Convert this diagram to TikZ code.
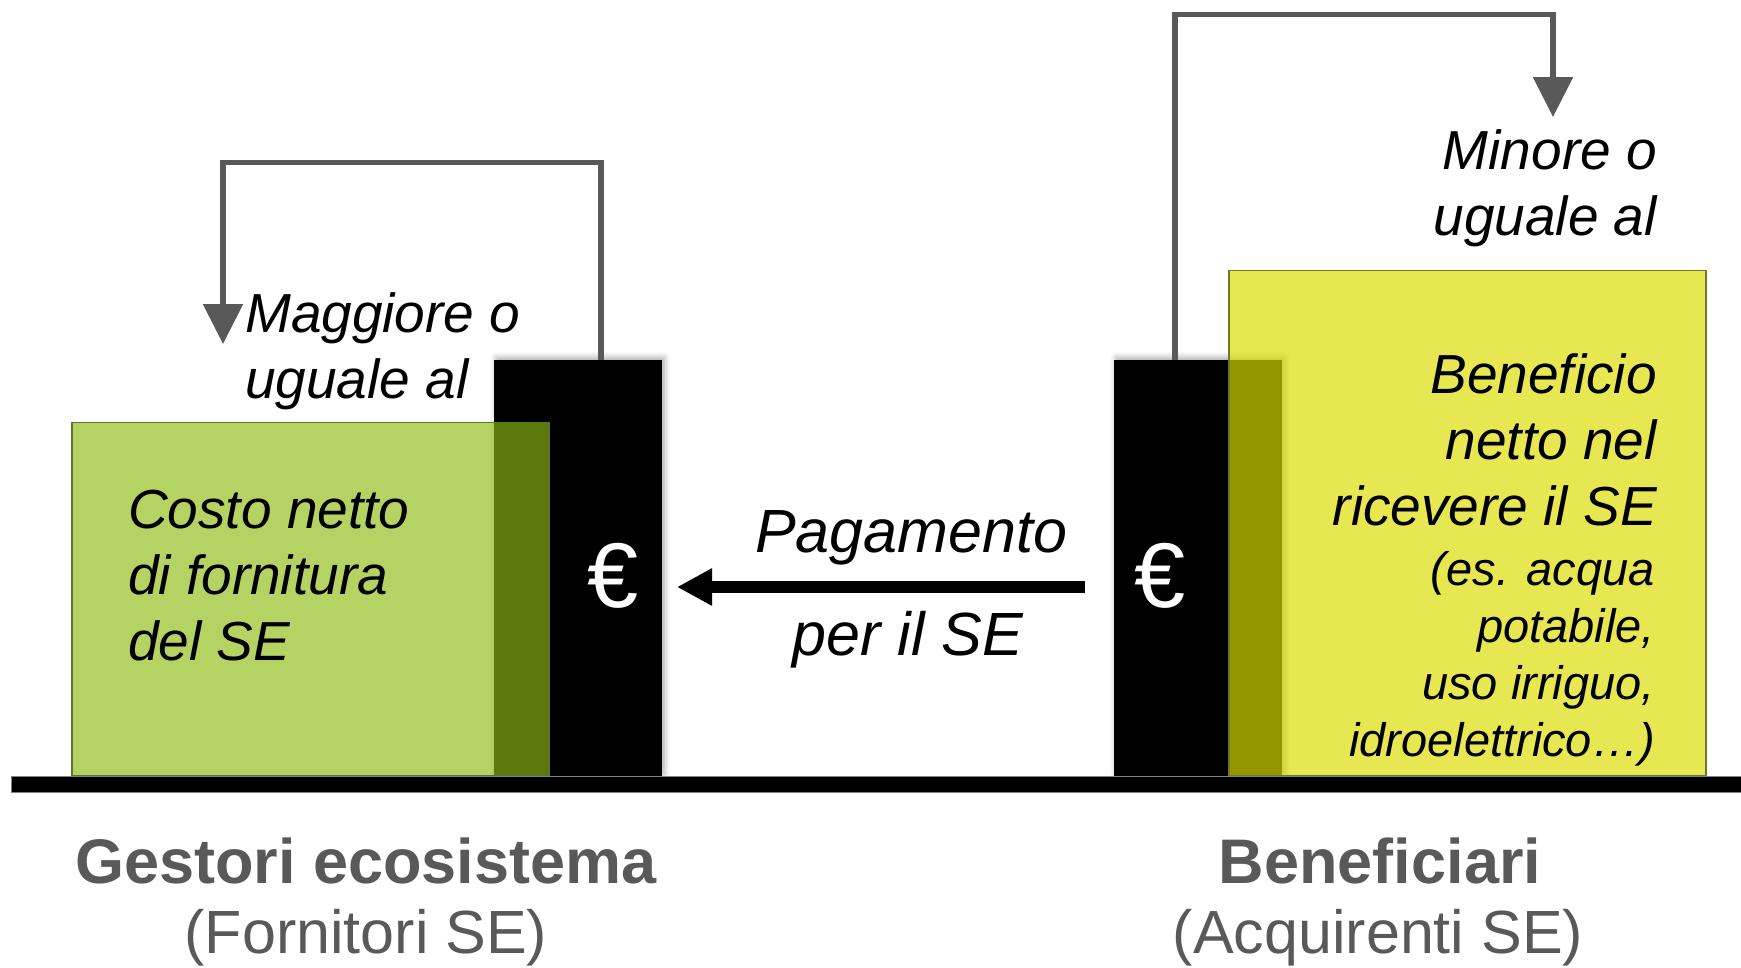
\documentclass[tikz,border=0pt]{standalone}
\usepackage{fontspec}
\setmainfont{Liberation Sans}
\usetikzlibrary{arrows.meta,shadows.blur}

\definecolor{costgreen}{RGB}{140,188,14}
\definecolor{costedge}{RGB}{95,115,45}
\definecolor{benyellow}{RGB}{220,220,0}
\definecolor{benedge}{RGB}{110,120,40}
\definecolor{linkgray}{RGB}{89,89,89}
\definecolor{textgray}{RGB}{89,89,89}

\begin{document}
\begin{tikzpicture}[x=1pt,y=-1pt,
	bar/.style={fill=black,inner sep=0pt,minimum width=168pt,minimum height=416pt,anchor=south west,
		blur shadow={shadow xshift=2pt,shadow yshift=2pt,shadow blur radius=6pt,shadow opacity=35}},
	box/.style={inner sep=0pt,minimum width=477pt,anchor=south west,line width=1.5pt},
	link/.style={draw=linkgray,line width=5.5pt,-{Triangle[width=39pt,length=40pt]}},
	pay/.style={line width=12pt,-{Triangle[width=35pt,length=35pt]}},
	note/.style={inner sep=0pt,font=\itshape\fontsize{55}{66}\selectfont},
	small/.style={inner sep=0pt,font=\itshape\fontsize{47}{57}\selectfont},
	euro/.style={inner sep=0pt,text=white,font=\fontsize{92}{92}\selectfont},
	who/.style={inner sep=0pt,anchor=base,text=textgray,font=\bfseries\fontsize{63}{70}\selectfont},
	whosub/.style={inner sep=0pt,anchor=base,text=textgray,font=\fontsize{61}{70}\selectfont}]
	\useasboundingbox (0,0) rectangle (1741,967);

	% bars and boxes
	\node[bar] (leftbar) at (494,776) {};
	\node[bar] (rightbar) at (1114,776) {};
	\node[box,fill=costgreen,fill opacity=.65,draw=costedge,minimum height=353pt] (costbox) at (71,776) {};
	\node[box,fill=benyellow,fill opacity=.68,draw=benedge,minimum height=505pt] (benbox) at (1228,776) {};
	\draw[fill=black,draw=gray,line width=1pt] (11,776) rectangle (1741,792);

	% connectors
	\coordinate (maggtip) at (223,344);
	\coordinate (minoretip) at (1553,117);
	\draw[link] ([xshift=23pt]leftbar.north) -- ++(0,-197) -| (maggtip);
	\draw[link] ([xshift=-23pt]rightbar.north) -- ++(0,-345) -| (minoretip);
	\coordinate (payfrom) at (1085,587);
	\coordinate (payto) at (677,587);
	\draw[pay] (payfrom) -- (payto);

	% texts (base = last line)
	\node[note,anchor=base west,align=left] (magg) at (245,398) {Maggiore o\\uguale al};
	\node[note,anchor=base west,align=left] (costo) at (128,660) {Costo netto\\di fornitura\\del SE};
	\node[note,anchor=base east,align=right] (minore) at (1657,235) {Minore o\\uguale al};
	\node[note,anchor=base east,align=right] (benef) at (1657,525) {Beneficio\\netto nel\\ricevere il SE};
	\node[small,anchor=base east,align=right] (esempi) at (1655,756) {(es. acqua\\potabile,\\uso irriguo,\\idroelettrico…)};
	\node[note,anchor=base,font=\itshape\fontsize{61}{61}\selectfont] (paytop) at (911,552) {Pagamento};
	\node[note,anchor=base,font=\itshape\fontsize{61}{61}\selectfont] (paybot) at (908,655) {per il SE};
	\node[euro] (eurol) at (613,576) {€};
	\node[euro] (euror) at (1160,576) {€};

	\node[who] (gestori) at (366,883) {Gestori ecosistema};
	\node[whosub] (fornitori) at (366,953) {(Fornitori SE)};
	\node[who] (benefic) at (1380,883) {Beneficiari};
	\node[whosub] (acquirenti) at (1378,953) {(Acquirenti SE)};
\end{tikzpicture}
\end{document}
